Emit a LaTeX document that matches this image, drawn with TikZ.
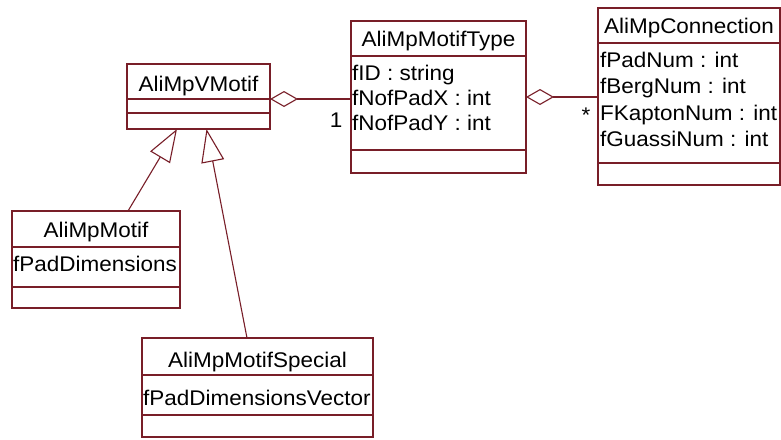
\documentclass[tikz,border=0pt]{standalone}
\usepackage{fontspec}
\setmainfont{Liberation Sans}[FakeStretch=1.06]
\usetikzlibrary{arrows.meta,calc}
\definecolor{umlline}{RGB}{120,30,40}
\tikzset{
  cls/.style={draw=umlline, line width=1.1pt, fill=white, rectangle, inner sep=0pt, outer sep=0pt, anchor=north west},
  divline/.style={draw=umlline, line width=1.1pt},
  txt/.style={inner sep=0pt, font=\fontsize{21.2}{24}\selectfont, text=black},
  aggr/.style={draw=umlline, line width=1.1pt, {Diamond[open, length=28pt, width=16pt, line width=1.1pt]}-},
  gen/.style={draw=umlline, line width=1.1pt, -{Triangle[open, length=33pt, width=23pt, line width=1.1pt]}}
}
\begin{document}
\begin{tikzpicture}[x=1pt,y=-1pt]
\useasboundingbox[fill=white] (0,0) rectangle (781,439);

% AliMpVMotif
\node[cls, minimum width=143pt, minimum height=65pt] (vm) at (127,64) {};
\draw[divline] ($(vm.north west)+(0,35)$) -- ($(vm.north east)+(0,35)$);
\draw[divline] ($(vm.north west)+(0,49)$) -- ($(vm.north east)+(0,49)$);
\node[txt, anchor=base] (vmn) at (198.5,91) {AliMpVMotif};

% AliMpMotifType
\node[cls, minimum width=175pt, minimum height=152pt] (mt) at (351,21) {};
\draw[divline] ($(mt.north west)+(0,35)$) -- ($(mt.north east)+(0,35)$);
\draw[divline] ($(mt.north west)+(0,129)$) -- ($(mt.north east)+(0,129)$);
\node[txt, anchor=base] (mtn) at (438.5,46) {AliMpMotifType};
\node[txt, anchor=base west] (mta1) at (352,80) {fID : string};
\node[txt, anchor=base west] (mta2) at (352,105) {fNofPadX : int};
\node[txt, anchor=base west] (mta3) at (352,130) {fNofPadY : int};

% AliMpConnection
\node[cls, minimum width=182pt, minimum height=177pt] (cn) at (598,8) {};
\draw[divline] ($(cn.north west)+(0,35)$) -- ($(cn.north east)+(0,35)$);
\draw[divline] ($(cn.north west)+(0,155)$) -- ($(cn.north east)+(0,155)$);
\node[txt, anchor=base] (cnn) at (689,33) {AliMpConnection};
\node[txt, anchor=base west] (cna1) at (600,67) {fPadNum : int};
\node[txt, anchor=base west] (cna2) at (600,93.5) {fBergNum : int};
\node[txt, anchor=base west] (cna3) at (600,120) {FKaptonNum : int};
\node[txt, anchor=base west] (cna4) at (600,146.5) {fGuassiNum : int};

% AliMpMotif
\node[cls, minimum width=168pt, minimum height=97pt] (mo) at (12,211) {};
\draw[divline] ($(mo.north west)+(0,36)$) -- ($(mo.north east)+(0,36)$);
\draw[divline] ($(mo.north west)+(0,76)$) -- ($(mo.north east)+(0,76)$);
\node[txt, anchor=base] (mon) at (96,237) {AliMpMotif};
\node[txt, anchor=base west] (moa1) at (13,271) {fPadDimensions};

% AliMpMotifSpecial
\node[cls, minimum width=231pt, minimum height=99pt] (ms) at (142,338) {};
\draw[divline] ($(ms.north west)+(0,37)$) -- ($(ms.north east)+(0,37)$);
\draw[divline] ($(ms.north west)+(0,77)$) -- ($(ms.north east)+(0,77)$);
\node[txt, anchor=base] (msn) at (257.5,367) {AliMpMotifSpecial};
\node[txt, anchor=base west] (msa1) at (143,405) {fPadDimensionsVector};

% aggregations
\draw[aggr] ([yshift=-2.5pt]vm.east) -- ([yshift=-2.5pt]vm.east -| mt.west);
\draw[aggr] (mt.east) -- (mt.east -| cn.west);
\node[txt] (m1) at (336,120) {1};
\node[txt] (m2) at (586,115) {*};

% generalizations
\draw[gen] ([xshift=32pt]mo.north) -- ([xshift=-21.5pt]vm.south);
\draw[gen] ([xshift=-10.5pt]ms.north) -- ([xshift=8pt]vm.south);
\end{tikzpicture}
\end{document}
